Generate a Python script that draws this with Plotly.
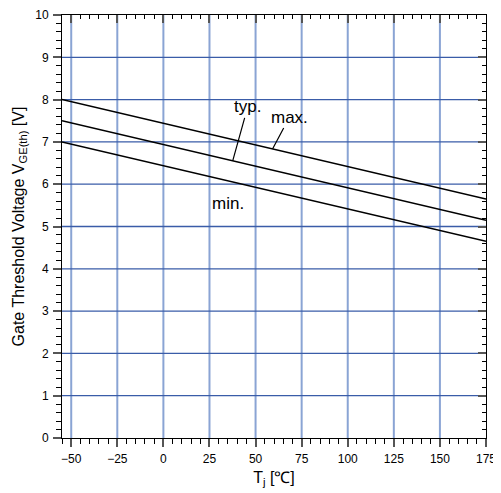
import plotly.graph_objects as go

# Data
tj = [-55, 175]
v_min = [7.0, 4.65]
v_typ = [7.5, 5.15]
v_max = [8.0, 5.65]

x_ticks = [-50, -25, 0, 25, 50, 75, 100, 125, 150, 175]
x_labels = ["\u221250", "\u221225", "0", "25", "50", "75", "100", "125", "150", "175"]
y_ticks = list(range(0, 11))

FONT = "Liberation Sans, Arial, sans-serif"
GRID_V = "#8aa4d4"
GRID_H = "#3a5ca8"

fig = go.Figure()
for name, v in [("min.", v_min), ("typ.", v_typ), ("max.", v_max)]:
    fig.add_trace(go.Scatter(x=tj, y=v, mode="lines", name=name,
                             line=dict(color="black", width=1.5),
                             showlegend=False, hoverinfo="skip"))
# invisible trace for mirror axes
fig.add_trace(go.Scatter(x=tj, y=v_typ, xaxis="x2", yaxis="y2", mode="lines",
                         line=dict(color="rgba(0,0,0,0)"), showlegend=False, hoverinfo="skip"))

# Vertical grid lines (lighter, wider) at the major x ticks
for xv in x_ticks[:-1]:
    fig.add_shape(type="line", xref="x", yref="paper", x0=xv, x1=xv, y0=0, y1=1,
                  line=dict(color=GRID_V, width=2), layer="below")
# Horizontal grid lines at the major y ticks
for yv in y_ticks[1:-1]:
    fig.add_shape(type="line", xref="paper", yref="y", x0=0, x1=1, y0=yv, y1=yv,
                  line=dict(color=GRID_H, width=1.3), layer="below")

# page body has an 8px default margin -> figure is 8px smaller and offset
fig.update_layout(
    width=493, height=485,
    margin=dict(l=54, r=15, t=7, b=55),
    paper_bgcolor="white", plot_bgcolor="white",
    font=dict(family=FONT, size=12, color="black"),
    xaxis=dict(range=[-55, 175], tickmode="array", tickvals=x_ticks, ticktext=x_labels,
               automargin=False, ticklabelstandoff=2,
               ticks="outside", ticklen=8, tickwidth=1.5, tickcolor="#555",
               showgrid=False, zeroline=False, showline=True, linecolor="black", linewidth=1,
               minor=dict(dtick=5, tick0=0, ticks="outside", ticklen=5, tickcolor="black",
                          tickwidth=1, showgrid=False),
               tickfont=dict(size=12),
               title=dict(text="T<sub>j</sub> [\u2103]", font=dict(size=16), standoff=6)),
    yaxis=dict(range=[0, 10], tickmode="array", tickvals=y_ticks,
               automargin=False, ticklabelstandoff=2,
               ticks="outside", ticklen=8, tickwidth=1.5, tickcolor="#555",
               showgrid=False, zeroline=False,
               showline=True, linecolor="black", linewidth=1,
               minor=dict(dtick=0.2, tick0=0, ticks="outside", ticklen=5, tickcolor="black",
                          tickwidth=1, showgrid=False),
               tickfont=dict(size=12),
               title=dict(text="Gate Threshold Voltage V<sub>GE(th)</sub> [V]", font=dict(size=16), standoff=6)),
    xaxis2=dict(range=[-55, 175], overlaying="x", side="top", anchor="y", automargin=False,
                tickmode="array", tickvals=x_ticks, showticklabels=False,
                ticks="inside", ticklen=8, tickwidth=1.5, tickcolor="#555",
                showgrid=False, zeroline=False, showline=True, linecolor="black", linewidth=1,
                minor=dict(dtick=5, tick0=0, ticks="inside", ticklen=4, tickcolor="black",
                           tickwidth=1, showgrid=False)),
    yaxis2=dict(range=[0, 10], overlaying="y", side="right", anchor="x", automargin=False,
                tickmode="array", tickvals=y_ticks, showticklabels=False,
                ticks="inside", ticklen=8, tickwidth=1.5, tickcolor="#555",
                showgrid=False, zeroline=False, showline=True, linecolor="black", linewidth=1,
                minor=dict(dtick=0.2, tick0=0, ticks="inside", ticklen=4, tickcolor="black",
                           tickwidth=1, showgrid=False)),
)

ann_font = dict(family=FONT, size=17, color="black")
fig.add_annotation(x=37.6, y=6.55, text="typ.", showarrow=True, arrowhead=0,
                   arrowwidth=1.2, arrowcolor="black", ax=15, ay=-54, font=ann_font)
fig.add_annotation(x=59.2, y=6.83, text="max.", showarrow=True, arrowhead=0,
                   arrowwidth=1.2, arrowcolor="black", ax=17, ay=-32, font=ann_font)
fig.add_annotation(x=34.9, y=5.55, text="min.", showarrow=False, font=ann_font)

fig.write_html("out.html")
